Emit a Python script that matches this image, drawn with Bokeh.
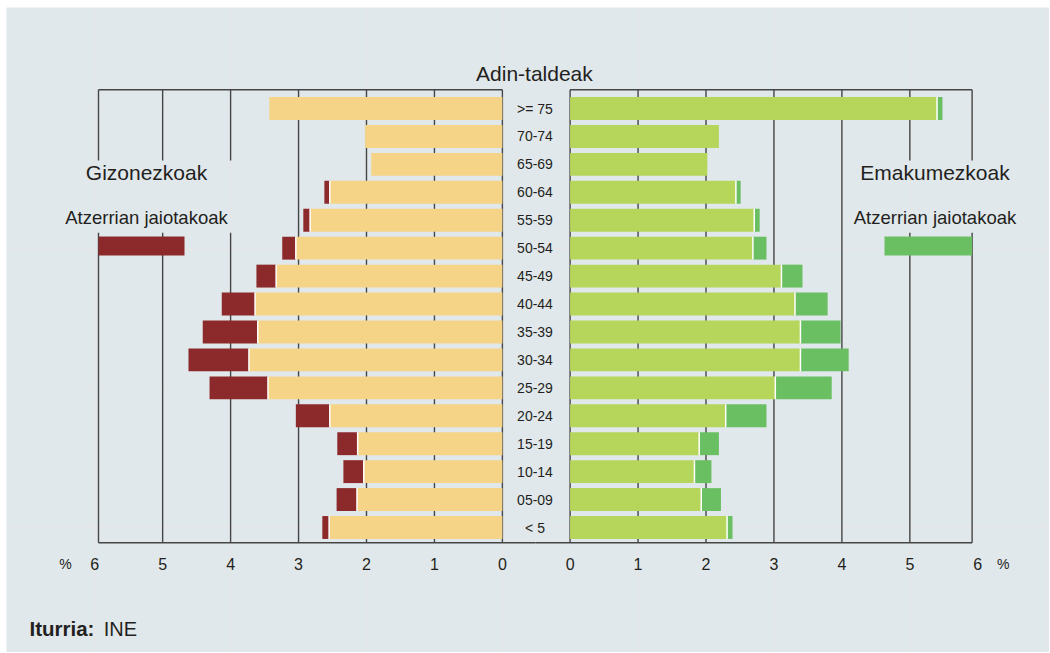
from bokeh.plotting import figure
from bokeh.models import (ColumnDataSource, Range1d, Label, BoxAnnotation,
                          CDSView, BooleanFilter)
from bokeh.core.properties import value
from bokeh.embed import file_html
from bokeh.resources import INLINE

# ---------------- data (percent of population) ----------------
ages = [">= 75", "70-74", "65-69", "60-64", "55-59", "50-54", "45-49", "40-44",
        "35-39", "30-34", "25-29", "20-24", "15-19", "10-14", "05-09", "< 5"]
male_native = [3.43, 2.02, 1.93, 2.54, 2.83, 3.04, 3.33, 3.64,
               3.60, 3.73, 3.45, 2.54, 2.13, 2.04, 2.14, 2.55]
male_foreign = [0.0, 0.0, 0.0, 0.08, 0.10, 0.20, 0.29, 0.49,
                0.81, 0.89, 0.86, 0.50, 0.30, 0.30, 0.30, 0.10]
female_native = [5.40, 2.19, 2.02, 2.44, 2.71, 2.69, 3.11, 3.31,
                 3.39, 3.39, 3.02, 2.29, 1.90, 1.83, 1.93, 2.31]
female_foreign = [0.08, 0.0, 0.0, 0.07, 0.08, 0.20, 0.31, 0.48,
                  0.59, 0.71, 0.83, 0.60, 0.29, 0.25, 0.29, 0.08]
x_ticks = [0, 1, 2, 3, 4, 5, 6]
x_tick_labels = ["0", "1", "2", "3", "4", "5", "6"]

title_text = "Adin-taldeak"
men_text = "Gizonezkoak"
women_text = "Emakumezkoak"
foreign_text = "Atzerrian jaiotakoak"
unit_text = "%"
source_bold = "Iturria:"
source_text = "INE"

# ---------------- style ----------------
BG = "#e1e8eb"
C_MN = "#f5d488"
C_MF = "#8c2a2b"
C_FN = "#b5d55b"
C_FF = "#6abf63"
LINE = "#454545"
TXT = "#231f20"
FONT = "Liberation Sans"

# page-pixel geometry (figure placed at page (6, 7))
PAGE_X0, PAGE_Y0 = 6, 7
W, H = 1043, 645
PXU = 67.95               # pixels per percent unit
L_ZERO = 501.9            # page x of 0 % (men, growing to the left)
R_ZERO = 569.6            # page x of 0 % (women, growing to the right)
ROW_TOP_PX, ROW_BOT_PX = 108.0, 527.0
n = len(ages)
STEP = (ROW_BOT_PX - ROW_TOP_PX) / (n - 1)


def lx(px):
    return (L_ZERO - px) / PXU


def rx(px):
    return (px - R_ZERO) / PXU


def yv(py):
    return (n - 1) - (py - ROW_TOP_PX) / STEP


Y_TOP = yv(89.3)
Y_BOT = yv(542.3)
GAP_HI = yv(160.0)
GAP_LO = yv(232.3)
BL = lx(98.0)
BR = rx(971.6)
BAR_H = 0.82

ypos = [n - 1 - i for i in range(n)]
src = ColumnDataSource(dict(age=ages, y=ypos, mn=male_native, mf=male_foreign,
                            fn=female_native, ff=female_foreign))
tick_src = ColumnDataSource(dict(x=x_ticks, t=x_tick_labels,
                                 y=[yv(563)] * len(x_ticks)))

p = figure(width=W, height=H,
           x_range=Range1d(lx(PAGE_X0), lx(PAGE_X0 + W)),
           y_range=Range1d(yv(PAGE_Y0 + H), yv(PAGE_Y0)),
           output_backend="svg", toolbar_location=None,
           x_axis_location=None, y_axis_location=None,
           min_border_left=0, min_border_right=0, min_border_top=0, min_border_bottom=0,
           margin=(PAGE_Y0, 0, 0, PAGE_X0))
p.extra_x_ranges = {"right": Range1d(rx(PAGE_X0), rx(PAGE_X0 + W))}
p.background_fill_color = BG
p.border_fill_color = BG
p.outline_line_color = None


def frame_lines(xs, gapped, x_bot_end, x_border, rng):
    x0, y0, y1 = [], [], []
    for x in xs:
        if x in gapped:
            x0 += [x, x]
            y0 += [Y_BOT, GAP_HI]
            y1 += [GAP_LO, Y_TOP]
        else:
            x0.append(x)
            y0.append(Y_BOT)
            y1.append(Y_TOP)
    p.segment(x0=x0, y0=y0, x1=x0, y1=y1, line_color=LINE, line_width=1.4,
              x_range_name=rng)
    p.segment(x0=[x_border, x_border], y0=[Y_TOP, Y_BOT],
              x1=[0, x_bot_end], y1=[Y_TOP, Y_BOT],
              line_color=LINE, line_width=1.4, x_range_name=rng)


def lab(x, y, text, size, align="center", bold=False, rng="default"):
    p.add_layout(Label(x=x, y=y, text=text, text_font=FONT, text_font_size=size,
                       text_align=align, text_baseline="middle",
                       text_color=TXT, text_font_style="bold" if bold else "normal",
                       x_range_name=rng))


# frame / grid lines
frame_lines([0, 1, 2, 3, 4, 5, BL], [4, 5, BL], lx(535), BL, "default")
frame_lines([0, 1, 2, 3, 4, 5, BR], [5, BR], rx(535), BR, "right")

# men (left)
p.hbar_stack(["mn", "mf"], y="y", height=BAR_H, color=[C_MN, C_MF],
             line_color=None, source=src)
p.rect(x="mn", y="y", width=1.5, width_units="screen", height=BAR_H,
       fill_color="white", line_color=None, source=src,
       view=CDSView(filter=BooleanFilter([f > 0 for f in male_foreign])))

# women (right)
p.hbar_stack(["fn", "ff"], y="y", height=BAR_H, color=[C_FN, C_FF],
             line_color=None, source=src, x_range_name="right")
p.rect(x="fn", y="y", width=1.5, width_units="screen", height=BAR_H,
       fill_color="white", line_color=None, source=src, x_range_name="right",
       view=CDSView(filter=BooleanFilter([f > 0 for f in female_foreign])))

# legend swatches
p.add_layout(BoxAnnotation(left=BL, right=lx(184), bottom=yv(255), top=yv(236),
                           fill_color=C_MF, fill_alpha=1, line_color=None))
p.add_layout(BoxAnnotation(left=rx(884), right=BR, bottom=yv(255), top=yv(236),
                           fill_color=C_FF, fill_alpha=1, line_color=None,
                           x_range_name="right"))

# age group labels
p.text(x=lx(534.5), y="y", text="age", source=src, text_align="center",
       text_baseline="middle", text_font_size="14px",
       text_color=TXT, text_font=value(FONT))

# tick labels
for rng in ("default", "right"):
    p.text(x="x", y="y", text="t", source=tick_src, text_align="center",
           text_baseline="middle", text_font_size="16px", text_color=TXT,
           text_font=value(FONT), x_range_name=rng)

# texts
lab(lx(533.9), yv(72.5), title_text, "21px")
lab(lx(146), yv(171.5), men_text, "21px")
lab(lx(146), yv(216.5), foreign_text, "18.5px")
lab(rx(934.5), yv(171.5), women_text, "21px", rng="right")
lab(rx(934.5), yv(216.5), foreign_text, "18.5px", rng="right")
lab(lx(65), yv(563), unit_text, "14px")
lab(rx(1002.6), yv(563), unit_text, "14px", rng="right")
lab(lx(29), yv(628), source_bold, "20.5px", align="left", bold=True)
lab(lx(103.3), yv(628), source_text, "20px", align="left")

open("out.html", "w").write(file_html(p, INLINE))
